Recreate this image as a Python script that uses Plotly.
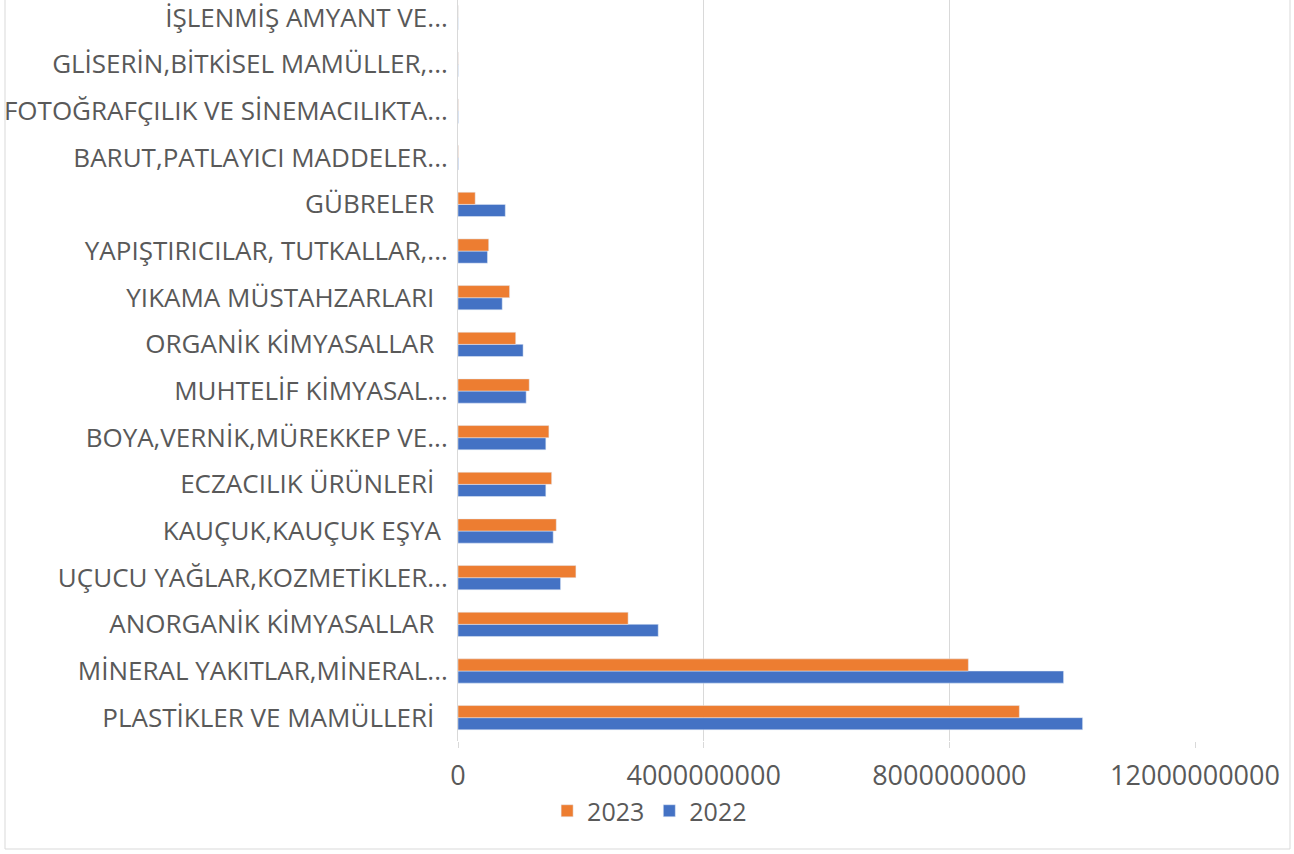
import plotly.graph_objects as go

# Categories listed bottom-to-top (as drawn on the y axis)
categories = [
    "PLASTİKLER VE MAMÜLLERİ\u00a0\u00a0",
    "MİNERAL YAKITLAR,MİNERAL...",
    "ANORGANİK KİMYASALLAR\u00a0\u00a0",
    "UÇUCU YAĞLAR,KOZMETİKLER...",
    "KAUÇUK,KAUÇUK EŞYA\u00a0",
    "ECZACILIK ÜRÜNLERİ\u00a0\u00a0",
    "BOYA,VERNİK,MÜREKKEP VE...",
    "MUHTELİF KİMYASAL...",
    "ORGANİK KİMYASALLAR\u00a0\u00a0",
    "YIKAMA MÜSTAHZARLARI\u00a0\u00a0",
    "YAPIŞTIRICILAR, TUTKALLAR,...",
    "GÜBRELER\u00a0\u00a0",
    "BARUT,PATLAYICI MADDELER...",
    "FOTOĞRAFÇILIK VE SİNEMACILIKTA...",
    "GLİSERİN,BİTKİSEL MAMÜLLER,...",
    "İŞLENMİŞ AMYANT VE...",
]

values_2022 = [
    10.17e9, 9.86e9, 3.26e9, 1.67e9, 1.55e9, 1.43e9, 1.43e9, 1.11e9,
    1.06e9, 0.72e9, 0.48e9, 0.77e9, 6e6, 4e6, 3e6, 2e6,
]
values_2023 = [
    9.14e9, 8.31e9, 2.77e9, 1.92e9, 1.60e9, 1.525e9, 1.48e9, 1.16e9,
    0.94e9, 0.84e9, 0.50e9, 0.28e9, 5e6, 4e6, 3e6, 2e6,
]

x_ticks = [0, 4000000000, 8000000000, 12000000000]

W, H = 1294, 854
ML, MR, MT, MB = 458, 99, 0, 113

FAMILY = "Open Sans, sans-serif"
TEXT = "#595959"
CAT_FONT = dict(family=FAMILY, size=26, color=TEXT)
TICK_FONT = dict(family=FAMILY, size=27, color=TEXT)
LEG_FONT = dict(family=FAMILY, size=25, color=TEXT)
GRID = "#D9D9D9"

fig = go.Figure()
fig.add_trace(go.Bar(
    name="2022", y=categories, x=values_2022, orientation="h",
    marker=dict(color="#4472C4"),
))
fig.add_trace(go.Bar(
    name="2023", y=categories, x=values_2023, orientation="h",
    marker=dict(color="#ED7D31"),
))

plot_w = W - ML - MR
plot_h = H - MT - MB

# outer chart frame, expressed in paper coordinates
fx0 = (5 - ML) / plot_w
fx1 = (1290 - ML) / plot_w
fy0 = (plot_h - 849) / plot_h
fy1 = (plot_h + 1) / plot_h

fig.update_layout(
    width=W, height=H,
    margin=dict(l=ML, r=MR, t=MT, b=MB, pad=0),
    paper_bgcolor="white", plot_bgcolor="white",
    barmode="group", bargap=0.48, bargroupgap=0,
    font=CAT_FONT,
    showlegend=True,
    legend=dict(
        orientation="h", traceorder="reversed",
        x=0.26, xanchor="center", y=(plot_h - 811) / plot_h, yanchor="middle",
        font=LEG_FONT, itemwidth=30,
    ),
    xaxis=dict(
        range=[0, 12000000000], tickvals=x_ticks, tickformat="d",
        showgrid=True, gridcolor=GRID, gridwidth=1,
        zeroline=False, showline=False,
        ticks="outside", ticklen=6, tickcolor=GRID,
        ticklabelstandoff=5, tickfont=TICK_FONT,
    ),
    yaxis=dict(
        type="category", range=[-0.5, 15.38],
        showgrid=False, showline=True, linecolor=GRID, linewidth=1,
        ticks="", tickfont=CAT_FONT, ticklabelstandoff=4,
    ),
    shapes=[dict(
        type="rect", xref="paper", yref="paper",
        x0=fx0, x1=fx1, y0=fy0, y1=fy1,
        line=dict(color="#D9D9D9", width=1), layer="below",
    )],
)

fig.write_html("out.html")
